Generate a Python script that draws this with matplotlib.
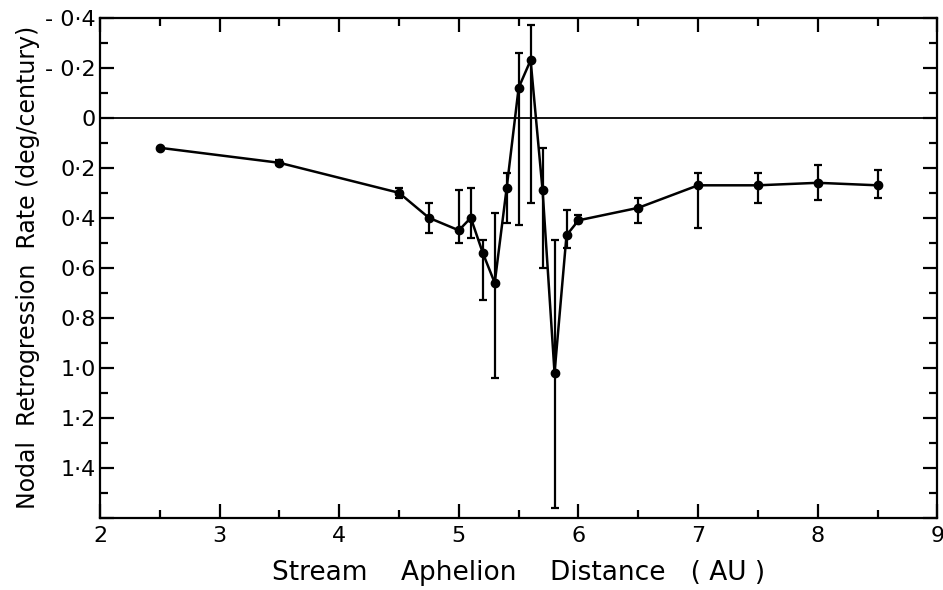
import numpy as np
import matplotlib.pyplot as plt
from matplotlib.ticker import MultipleLocator, FuncFormatter

# aphelion distance (AU) and nodal retrogression rate (deg/century)
dist = [2.5, 3.5, 4.5, 4.75, 5.0, 5.1, 5.2, 5.3, 5.4, 5.5, 5.6, 5.7, 5.8, 5.9, 6.0, 6.5, 7.0, 7.5, 8.0, 8.5]
rate = [0.12, 0.18, 0.30, 0.40, 0.45, 0.40, 0.54, 0.66, 0.28, -0.12, -0.23, 0.29, 1.02, 0.47, 0.41, 0.36, 0.27, 0.27, 0.26, 0.27]
# error bar ends
low = [0.12, 0.17, 0.28, 0.34, 0.29, 0.28, 0.49, 0.38, 0.22, -0.26, -0.37, 0.12, 0.49, 0.37, 0.39, 0.32, 0.22, 0.22, 0.19, 0.21]
high = [0.12, 0.19, 0.32, 0.46, 0.50, 0.48, 0.73, 1.04, 0.42, 0.43, 0.34, 0.60, 1.56, 0.52, 0.42, 0.42, 0.44, 0.34, 0.33, 0.32]

rate = np.array(rate)
yerr = [rate - np.array(low), np.array(high) - rate]

plt.rcParams['font.family'] = ['DejaVu Sans']

fig = plt.figure(figsize=(9.43, 5.90), dpi=100)
ax = fig.add_axes([0.106, 0.122, 0.888, 0.848])

ax.axhline(0, color='black', lw=1.3)
ax.errorbar(dist, rate, yerr=yerr, fmt='o-', color='black', ms=6, lw=1.8,
            elinewidth=1.6, capsize=3, capthick=1.6)

ax.set_xlim(2, 9)
ax.set_ylim(1.6, -0.4)
ax.xaxis.set_major_locator(MultipleLocator(1))
ax.xaxis.set_minor_locator(MultipleLocator(0.5))
ax.yaxis.set_major_locator(MultipleLocator(0.2))
ax.yaxis.set_minor_locator(MultipleLocator(0.1))

def yfmt(v, pos):
    if abs(v) < 1e-9:
        return '0'
    if v > 1.5:
        return ''
    s = '%.1f' % v
    return s.replace('-', '- ').replace('.', '·')

ax.yaxis.set_major_formatter(FuncFormatter(yfmt))
ax.tick_params(which='both', direction='in', top=True, right=True, width=1.6)
ax.tick_params(which='major', length=10, labelsize=16)
ax.tick_params(which='minor', length=6)
ax.tick_params(axis='x', pad=6)
ax.tick_params(axis='y', pad=3)
for s in ax.spines.values():
    s.set_linewidth(1.6)

ax.set_xlabel('Stream    Aphelion    Distance   ( AU )', fontsize=19, labelpad=10)
ax.set_ylabel('Nodal  Retrogression  Rate (deg/century)', fontsize=17, labelpad=4)

plt.savefig('out.png', dpi=100)
